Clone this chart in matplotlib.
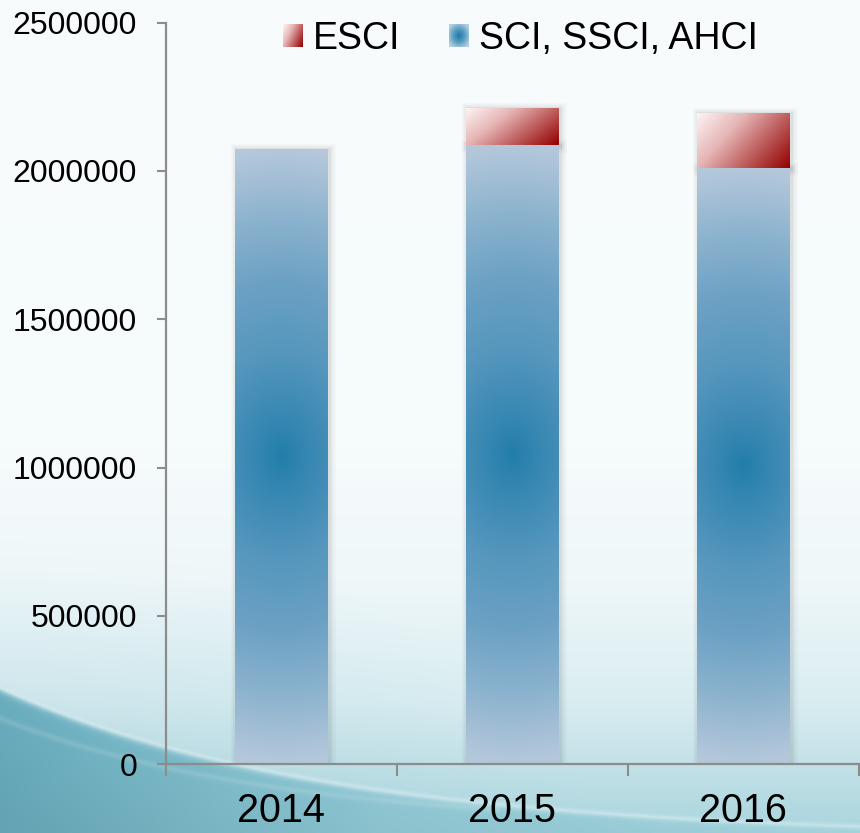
import numpy as np
import matplotlib
matplotlib.use("Agg")
import matplotlib.pyplot as plt
import matplotlib.patheffects as pe
from matplotlib.patches import Patch
from matplotlib.legend_handler import HandlerBase
from matplotlib.image import BboxImage
from matplotlib.transforms import Bbox, TransformedBbox

plt.rcParams['font.family'] = ['Liberation Sans', 'DejaVu Sans']

# ---------------- data ----------------
years = ["2014", "2015", "2016"]
sci_ssci_ahci = [2074000, 2088000, 2010000]
esci = [0, 125000, 186000]
series_labels = ["ESCI", "SCI, SSCI, AHCI"]
y_ticks = [0, 500000, 1000000, 1500000, 2000000, 2500000]

W, H, DPI = 860, 833, 100


def hex2rgb(h):
    h = h.lstrip('#')
    return np.array([int(h[i:i + 2], 16) / 255 for i in (0, 2, 4)])


def ramp(t, stops):
    pos = np.array([p for p, _ in stops])
    cols = np.array([hex2rgb(c) for _, c in stops])
    out = np.empty(t.shape + (3,))
    for k in range(3):
        out[..., k] = np.interp(t, pos, cols[:, k])
    return out


def blue_img(n=300, m=60):
    v = np.linspace(-1, 1, n)[:, None]
    u = np.linspace(-1, 1, m)[None, :]
    d = np.clip(np.sqrt(v ** 2 + (0.2 * u) ** 2), 0, 1)
    return ramp(d, [(0, '#227da9'), (0.1, '#3386b1'), (0.35, '#5797be'),
                    (0.57, '#6ca1c4'), (0.78, '#8cb3ce'), (1.0, '#b5c8db')])


def red_img(n=100, m=100):
    v = np.linspace(0, 1, n)[:, None]
    u = np.linspace(0, 1, m)[None, :]
    t = 0.65 * u + 0.35 * v
    return ramp(t, [(0, '#fff5f5'), (0.35, '#e6b5b5'), (0.55, '#cc7c7c'),
                    (0.8, '#ac3636'), (1.0, '#940000')])


# ---------------- background ----------------
yy, xx = np.mgrid[0:H, 0:W].astype(float)
bg = ramp(yy, [(0, '#f8fcfd'), (450, '#f6fbfc'), (580, '#eff7f9'), (700, '#d9edf1'),
               (764, '#c3e1e7'), (833, '#a9d5de')])
g = np.clip(1 - np.hypot(xx / 600, (H - yy) / 300), 0, 1) ** 1.2
bg = bg * (1 - 0.3 * g[..., None]) + hex2rgb('#8cc3d0') * 0.3 * g[..., None]
yc = 690 + 150 * (1 - np.exp(-xx / 330))
below = 1 / (1 + np.exp(-(yy - yc) / 2.0))
low_col = ramp(np.clip(xx / 860, 0, 1), [(0, '#6aaebf'), (0.45, '#8ec6d2'), (1.0, '#a4d3dc')])
low_col = low_col * (1 - 0.06 * np.clip((yy - yc) / 120, 0, 1)[..., None])
bg = bg * (1 - below[..., None]) + low_col * below[..., None]
hl = np.exp(-((yy - yc + 3) / 2.5) ** 2) * 0.3
bg = bg * (1 - hl[..., None]) + 1.0 * hl[..., None]
yc2 = 718 + 110 * (1 - np.exp(-xx / 280))
hl2 = np.exp(-((yy - yc2) / 3.0) ** 2) * 0.12 * (xx < 500)
bg = bg * (1 - hl2[..., None]) + 1.0 * hl2[..., None]

fig = plt.figure(figsize=(W / DPI, H / DPI), dpi=DPI)
bgax = fig.add_axes([0, 0, 1, 1], zorder=-5)
bgax.imshow(np.clip(bg, 0, 1), aspect='auto', extent=(0, 1, 0, 1), origin='upper')
bgax.axis('off')

# ---------------- main axes ----------------
ax = fig.add_axes([165.7 / W, 68.7 / H, 693 / W, 741.7 / H])
ax.set_facecolor('none')

x = np.arange(len(years))
bw = 0.40
shadow = [pe.Stroke(linewidth=9, foreground='#000000', alpha=0.025, offset=(1.5, -1)),
          pe.Stroke(linewidth=6, foreground='#000000', alpha=0.035, offset=(1.5, -1)),
          pe.Stroke(linewidth=3, foreground='#000000', alpha=0.05, offset=(1.5, -1)),
          pe.Normal()]
b1 = ax.bar(x, sci_ssci_ahci, width=bw, facecolor='none', edgecolor='none', zorder=1)
b2 = ax.bar(x, esci, width=bw, bottom=sci_ssci_ahci, facecolor='none', edgecolor='none', zorder=1)

bimg = blue_img()
rimg = red_img()
for bars, img in ((b1, bimg), (b2, rimg)):
    for p in bars.patches:
        if p.get_height() <= 0:
            continue
        p.set_path_effects(shadow)
        x0, y0 = p.get_x(), p.get_y()
        im = ax.imshow(img, extent=(x0, x0 + p.get_width(), y0, y0 + p.get_height()),
                       aspect='auto', origin='upper', zorder=3, interpolation='bilinear')
        im.set_clip_path(p)

ax.set_xlim(-0.5, len(years) - 0.5)
ax.set_ylim(0, 2500000)

for sp in ['top', 'right']:
    ax.spines[sp].set_visible(False)
for sp in ['left', 'bottom']:
    ax.spines[sp].set_color('#8c8c8c')
    ax.spines[sp].set_linewidth(1.6)
    ax.spines[sp].set_zorder(4)

ax.set_yticks(y_ticks)
ax.set_yticklabels([str(v) for v in y_ticks])
ax.tick_params(axis='y', direction='out', length=6.5, width=1.5, color='#8c8c8c',
               labelsize=23, pad=14, labelcolor='black')

ax.set_xticks(np.arange(len(years) + 1) - 0.5)
ax.set_xticklabels([''] * (len(years) + 1))
ax.set_xticks(x, minor=True)
ax.set_xticklabels(years, minor=True)
ax.tick_params(axis='x', which='major', direction='out', length=8.6, width=1.5, color='#8c8c8c')
ax.tick_params(axis='x', which='minor', length=0, labelsize=28.5, pad=20, labelcolor='black')


# ---------------- legend ----------------
class GradHandler(HandlerBase):
    def __init__(self, img):
        super().__init__()
        self.img = img

    def create_artists(self, legend, orig_handle, xdescent, ydescent, width, height, fontsize, trans):
        bb = TransformedBbox(Bbox.from_bounds(-xdescent, -ydescent, width, height), trans)
        im = BboxImage(bb, interpolation='bilinear')
        im.set_data(self.img)
        return [im]


v = np.linspace(-1, 1, 40)[:, None]
u = np.linspace(-1, 1, 40)[None, :]
leg_blue = ramp(np.clip(np.sqrt(u ** 2 + v ** 2) / 1.2, 0, 1),
                [(0, '#1f7aa8'), (0.5, '#5a9cc2'), (1.0, '#b3cfe0')])
h_esci = Patch(label=series_labels[0])
h_sci = Patch(label=series_labels[1])
fig.legend(handles=[h_esci, h_sci], loc='center', bbox_to_anchor=(0.605, 0.953),
           ncol=2, frameon=False, fontsize=27, handlelength=0.53, handleheight=0.53,
           handletextpad=0.27, columnspacing=1.3, borderpad=0,
           handler_map={h_esci: GradHandler(red_img(40, 40)), h_sci: GradHandler(leg_blue)})

fig.savefig('out.png', dpi=DPI)
